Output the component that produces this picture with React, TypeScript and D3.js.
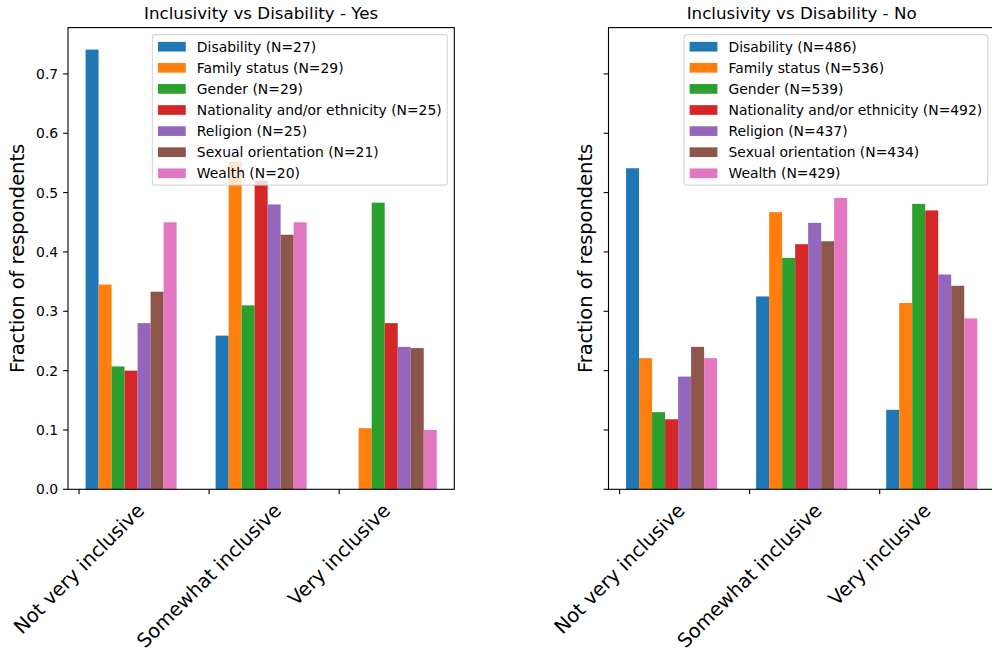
import React from "react";
import * as d3 from "d3";

const categories = ["Not very inclusive", "Somewhat inclusive", "Very inclusive"];
const groups = [
  "Disability",
  "Family status",
  "Gender",
  "Nationality and/or ethnicity",
  "Religion",
  "Sexual orientation",
  "Wealth",
];
const colors = ["#1f77b4", "#ff7f0e", "#2ca02c", "#d62728", "#9467bd", "#8c564b", "#e377c2"];

const nYes = [27, 29, 29, 25, 25, 21, 20];
const nNo = [486, 536, 539, 492, 437, 434, 429];

// values per group, in category order
const yesDisability = [0.741, 0.259, 0.0];
const yesFamily = [0.345, 0.552, 0.103];
const yesGender = [0.207, 0.31, 0.483];
const yesNationality = [0.2, 0.52, 0.28];
const yesReligion = [0.28, 0.48, 0.24];
const yesSexual = [0.333, 0.429, 0.238];
const yesWealth = [0.45, 0.45, 0.1];

const noDisability = [0.541, 0.325, 0.134];
const noFamily = [0.221, 0.467, 0.314];
const noGender = [0.13, 0.39, 0.481];
const noNationality = [0.118, 0.413, 0.47];
const noReligion = [0.19, 0.449, 0.362];
const noSexual = [0.24, 0.418, 0.343];
const noWealth = [0.221, 0.491, 0.288];

const yTicks = [0, 0.1, 0.2, 0.3, 0.4, 0.5, 0.6, 0.7];

const yesSeries = [yesDisability, yesFamily, yesGender, yesNationality, yesReligion, yesSexual, yesWealth];
const noSeries = [noDisability, noFamily, noGender, noNationality, noReligion, noSexual, noWealth];

const FONT = "DejaVu Sans, Liberation Sans, sans-serif";
const TICK_FS = 13.9;
const LABEL_FS = 19.44;
const TITLE_FS = 16.7;

let _ctx: CanvasRenderingContext2D | null = null;
function measure(text: string, size: number) {
  if (!_ctx) {
    const c = document.createElement("canvas");
    _ctx = c.getContext("2d");
  }
  if (!_ctx) return text.length * size * 0.55;
  _ctx.font = `${size}px "DejaVu Sans"`;
  return _ctx.measureText(text).width;
}

const Y0 = 489.3;
const YTOP = 27.6;
const BARW = 0.1;

const yMax = (d3.max([...yesSeries, ...noSeries].flat()) as number) * 1.05;
const y = d3.scaleLinear().domain([0, yMax]).range([Y0, YTOP]);

function Panel({
  x0,
  x1,
  title,
  series,
  ns,
  showYLabels,
}: {
  x0: number;
  x1: number;
  title: string;
  series: number[][];
  ns: number[];
  showYLabels: boolean;
}) {
  const xmin = 0.05 - 0.135;
  const xmax = 0.05 + 2.7 + 0.135;
  const x = d3.scaleLinear().domain([xmin, xmax]).range([x0, x1]);
  const tickLen = 4.9;
  const pad = 4.9;

  // legend
  const labels = groups.map((g, i) => `${g} (N=${ns[i]})`);
  const maxW = d3.max(labels.map((l) => measure(l, TICK_FS))) as number;
  const lgW = 5.6 + 27.8 + 11.1 + maxW + 5.6;
  const lgRight = x1 - 7;
  const lgLeft = lgRight - lgW;
  const lgTop = YTOP + 7;
  const lgH = 150.5;

  const ylabelBaseline = showYLabels
    ? x0 - tickLen - pad - measure("0.0", TICK_FS) - 12.5
    : x0 - 16.5;

  return (
    <g>
      {/* bars */}
      {series.map((vals, gi) =>
        vals.map((v, ci) => {
          const cx = ci + BARW * (gi + 1);
          return (
            <rect
              key={`${gi}-${ci}`}
              x={x(cx - BARW / 2)}
              width={x(cx + BARW / 2) - x(cx - BARW / 2)}
              y={y(v)}
              height={Y0 - y(v)}
              fill={colors[gi]}
            />
          );
        })
      )}
      {/* spines */}
      <rect x={x0} y={YTOP} width={x1 - x0} height={Y0 - YTOP} fill="none" stroke="#000" strokeWidth={1.1} />
      {/* y ticks */}
      {yTicks.map((t) => (
        <g key={t}>
          <line x1={x0 - tickLen} x2={x0} y1={y(t)} y2={y(t)} stroke="#000" strokeWidth={1.1} />
          {showYLabels && (
            <text
              x={x0 - tickLen - pad}
              y={y(t)}
              textAnchor="end"
              dominantBaseline="central"
              fontFamily={FONT}
              fontSize={TICK_FS}
              fill="#000"
            >
              {t.toFixed(1)}
            </text>
          )}
        </g>
      ))}
      {/* x ticks */}
      {categories.map((c, i) => {
        const L = measure(c, LABEL_FS);
        const h = LABEL_FS * 1.164;
        const cy = Y0 + tickLen + pad + (L + h) / (2 * Math.SQRT2);
        return (
          <g key={c}>
            <line x1={x(i)} x2={x(i)} y1={Y0} y2={Y0 + tickLen} stroke="#000" strokeWidth={1.1} />
            <text
              transform={`translate(${x(i)},${cy}) rotate(-45)`}
              textAnchor="middle"
              dominantBaseline="central"
              fontFamily={FONT}
              fontSize={LABEL_FS}
              fill="#000"
            >
              {c}
            </text>
          </g>
        );
      })}
      {/* y label */}
      <text
        transform={`translate(${ylabelBaseline},${(Y0 + YTOP) / 2}) rotate(-90)`}
        textAnchor="middle"
        fontFamily={FONT}
        fontSize={LABEL_FS}
        fill="#000"
      >
        Fraction of respondents
      </text>
      {/* title */}
      <text x={(x0 + x1) / 2} y={YTOP - 8.3} textAnchor="middle" fontFamily={FONT} fontSize={TITLE_FS} fill="#000">
        {title}
      </text>
      {/* legend */}
      <rect
        x={lgLeft}
        y={lgTop}
        width={lgW}
        height={lgH}
        rx={2.8}
        fill="#fff"
        fillOpacity={0.8}
        stroke="#cccccc"
        strokeOpacity={0.8}
        strokeWidth={1.1}
      />
      {labels.map((l, i) => {
        const cy = lgTop + 12.1 + i * 21.1;
        return (
          <g key={l}>
            <rect x={lgLeft + 5.6} y={cy - 4.85} width={27.8} height={9.7} fill={colors[i]} />
            <text
              x={lgLeft + 5.6 + 27.8 + 11.1}
              y={cy}
              dominantBaseline="central"
              fontFamily={FONT}
              fontSize={TICK_FS}
              fill="#000"
            >
              {l}
            </text>
          </g>
        );
      })}
    </g>
  );
}

export default function App() {
  return (
    <svg
      width={992}
      height={652}
      style={{ position: "absolute", left: 0, top: 0, background: "#fff" }}
    >
      <rect width={992} height={652} fill="#fff" />
      <Panel x0={68} x1={454.3} title="Inclusivity vs Disability - Yes" series={yesSeries} ns={nYes} showYLabels={true} />
      <Panel x0={608.5} x1={994.8} title="Inclusivity vs Disability - No" series={noSeries} ns={nNo} showYLabels={false} />
    </svg>
  );
}
